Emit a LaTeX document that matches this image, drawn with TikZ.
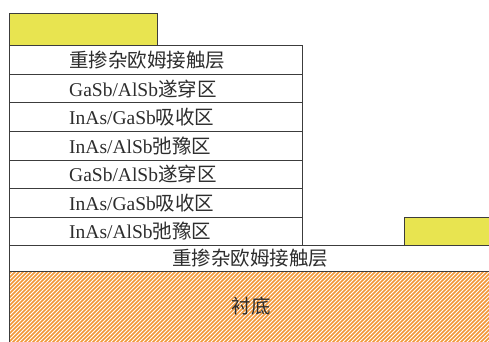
\documentclass[tikz,border=0pt]{standalone}
\usepackage{fontspec}
\setmainfont{Liberation Serif}
\newfontfamily\cjk{Noto Sans CJK SC}
\definecolor{padyellow}{RGB}{232,228,80}
\definecolor{hatchorange}{RGB}{242,150,55}
\definecolor{edgegray}{RGB}{60,60,60}
\definecolor{txtgray}{RGB}{45,45,45}
\begin{document}
\begin{tikzpicture}[x=1pt,y=1pt,
  layerbox/.style={draw=edgegray,line width=0.9pt,fill=white},
  padbox/.style={draw=edgegray,line width=0.9pt,fill=padyellow},
  lbl/.style={inner sep=0pt,text=txtgray,font=\fontsize{19.5}{21}\selectfont},
]
\useasboundingbox (0,0) rectangle (489,341);
\clip (0,0) rectangle (489,341);
\fill[white] (0,0) rectangle (489,341);
% substrate
\fill[white] (9,-5) rectangle (495,70);
\begin{scope}
  \clip (9,-5) rectangle (495,70);
  \foreach \i in {-20,...,125}{
    \draw[hatchorange,line width=1.7pt] ({9+\i*4},-5) -- ++(80,80);
  }
\end{scope}
\draw[edgegray,line width=0.9pt] (9,-5) rectangle (495,70);
\node[lbl] (sub) at (251,35) {\cjk 衬底};
% bottom contact layer
\draw[layerbox] (9,70) rectangle (495,95.3);
\node[lbl] (botc) at (250,83) {\cjk 重掺杂欧姆接触层};
% right contact pad
\draw[padbox] (404,95.3) rectangle (495,123.3);
% stack layers
\foreach \k/\t in {0/{InAs/AlSb{\cjk 弛豫区}},1/{InAs/GaSb{\cjk 吸收区}},2/{GaSb/AlSb{\cjk 遂穿区}},3/{InAs/AlSb{\cjk 弛豫区}},4/{InAs/GaSb{\cjk 吸收区}},5/{GaSb/AlSb{\cjk 遂穿区}},6/{{\cjk 重掺杂欧姆接触层}}}{
  \draw[layerbox] (9,{95.3+28.57*\k}) rectangle (302,{95.3+28.57*(\k+1)});
  \node[lbl,anchor=west] (row\k) at (69,{95.3+28.57*\k+14.3}) {\t};
}
% top contact pad
\draw[padbox] (9,295.3) rectangle (157,328);
\end{tikzpicture}
\end{document}
